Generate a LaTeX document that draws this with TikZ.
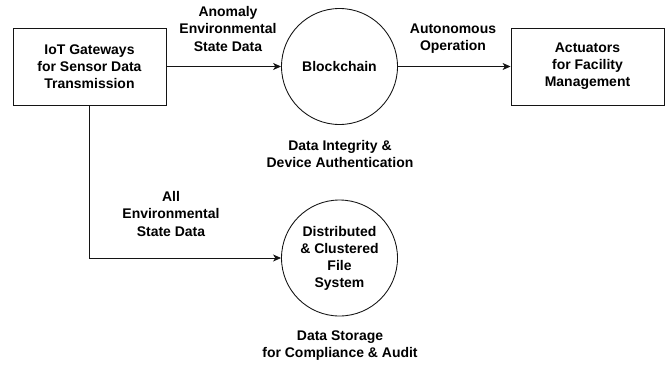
\documentclass[tikz,border=0pt]{standalone}
\usepackage{fontspec}
\setmainfont{Liberation Sans}
\usetikzlibrary{arrows.meta,positioning,calc}
\definecolor{lnblk}{RGB}{20,20,20}
\tikzset{
  blk/.style={draw=lnblk, line width=1pt, minimum width=6.12cm, minimum height=3.08cm, align=center, inner sep=2pt},
  proc/.style={circle, draw=lnblk, line width=1pt, minimum size=4.64cm, align=center, inner sep=0pt},
  lbl/.style={align=center, inner sep=0pt},
  flw/.style={-{Stealth[length=3.2mm, width=2.8mm, inset=0.9mm]}, draw=lnblk, line width=1pt},
}

\begin{document}
\begin{tikzpicture}[font=\fontsize{15.9}{19.4}\selectfont\bfseries]
\useasboundingbox (0,0) rectangle (26.8,-14.72);
% boxes and processes
\node[blk]  (gw)    at (3.58,-2.66)  {IoT Gateways\\for Sensor Data\\Transmission};
\node[proc] (chain) at (13.58,-2.66) {Blockchain};
\node[blk]  (act)   at (23.5,-2.66)  {Actuators\\for Facility\\Management};
\node[proc] (dfs)   at (13.58,-10.32) {Distributed\\\& Clustered\\File\\System};
% flows
\draw[flw] (gw) -- (chain);
\draw[flw] (chain) -- (act);
\draw[flw] (gw.south) |- (dfs.west);
% flow and process notes
\node[lbl] (anom)  at (9.12,-1.16)  {Anomaly\\Environmental\\State Data};
\node[lbl] (auto)  at (18.12,-1.54) {Autonomous\\Operation};
\node[lbl] (integ) at (13.6,-6.16)  {Data Integrity \&\\Device Authentication};
\node[lbl] (allenv) at (6.84,-8.56) {All\\Environmental\\State Data};
\node[lbl] (store) at (13.6,-13.82) {Data Storage\\for Compliance \& Audit};
\end{tikzpicture}
\end{document}
